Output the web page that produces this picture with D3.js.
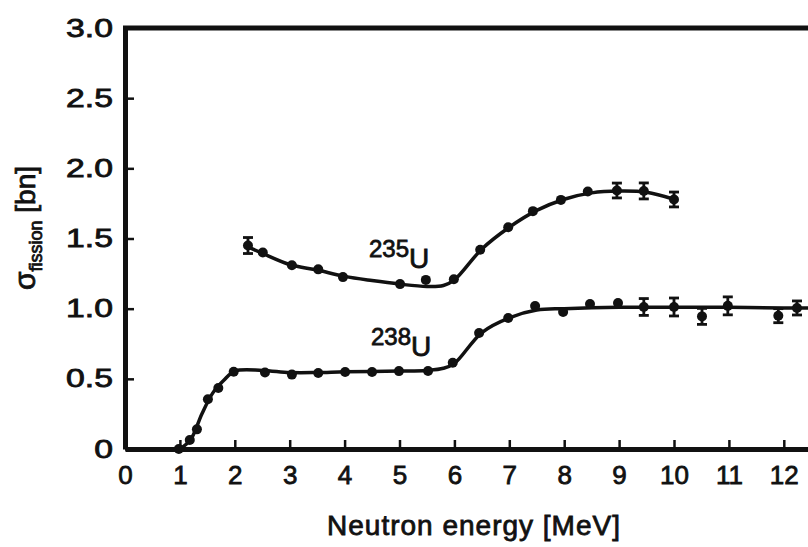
<!DOCTYPE html>
<html>
<head>
<meta charset="utf-8">
<script src="https://cdn.jsdelivr.net/npm/d3@7"></script>
<style>
  body { margin: 0; background: #fff; }
  svg { display: block; }
  text { font-family: "Liberation Sans", Arial, Helvetica, sans-serif; fill: #111; stroke: #111; stroke-width: 0.8px; }
</style>
</head>
<body>
<svg id="chart" width="808" height="547"></svg>
<script>
// Axis ticks
const energyTicks = [0, 1, 2, 3, 4, 5, 6, 7, 8, 9, 10, 11, 12];
const sigmaTicks = [0, 0.5, 1.0, 1.5, 2.0, 2.5, 3.0];

// U-235 fission cross section: measured points (MeV, barn, error)
const u235Energy = [2.24, 2.51, 3.04, 3.52, 3.97, 5.01, 5.48, 5.99, 6.47, 6.98, 7.43, 7.94, 8.43, 8.96, 9.45, 10.0];
const u235Sigma  = [1.45, 1.40, 1.31, 1.28, 1.225, 1.175, 1.205, 1.21, 1.42, 1.58, 1.695, 1.775, 1.835, 1.842, 1.839, 1.778];
const u235Err    = [0.057, 0, 0, 0, 0, 0, 0, 0, 0, 0, 0, 0, 0, 0.053, 0.057, 0.053];

// U-235 smooth fit
const u235FitEnergy = [2.24, 2.5, 3.0, 3.5, 4.0, 4.5, 5.0, 5.5, 5.8, 6.0, 6.5, 7.0, 7.5, 8.0, 8.5, 9.0, 9.5, 10.0];
const u235FitSigma  = [1.44, 1.395, 1.315, 1.275, 1.23, 1.2, 1.175, 1.158, 1.165, 1.205, 1.425, 1.58, 1.70, 1.78, 1.825, 1.838, 1.83, 1.78];

// U-238 fission cross section: measured points (MeV, barn, error)
const u238Energy = [0.98, 1.18, 1.31, 1.51, 1.70, 1.98, 2.55, 3.04, 3.52, 4.01, 4.5, 4.99, 5.52, 5.97, 6.45, 6.98, 7.47, 7.98, 8.47, 8.98, 9.45, 10.0, 10.51, 10.98, 11.9, 12.24];
const u238Sigma  = [0.0, 0.064, 0.14, 0.355, 0.435, 0.55, 0.545, 0.53, 0.542, 0.549, 0.549, 0.555, 0.556, 0.615, 0.827, 0.934, 1.019, 0.976, 1.033, 1.04, 1.012, 1.012, 0.945, 1.02, 0.95, 1.005];
const u238Err    = [0, 0, 0, 0, 0, 0, 0, 0, 0, 0, 0, 0, 0, 0, 0, 0, 0, 0, 0, 0, 0.06, 0.064, 0.057, 0.064, 0.05, 0.05];

// U-238 smooth fit
const u238FitEnergy = [1.0, 1.2, 1.4, 1.6, 1.8, 2.0, 2.5, 3.0, 3.5, 4.0, 5.0, 5.5, 5.8, 6.0, 6.5, 7.0, 7.5, 8.0, 9.0, 10.0, 11.0, 12.0, 12.6];
const u238FitSigma  = [0.0, 0.07, 0.25, 0.40, 0.49, 0.555, 0.56, 0.545, 0.545, 0.55, 0.555, 0.56, 0.575, 0.61, 0.83, 0.935, 0.99, 1.0, 1.01, 1.01, 1.01, 1.005, 1.005];

const svg = d3.select("#chart");

const x = d3.scaleLinear().domain([0, 13]).range([125, 125 + 13 * 54.9]);
const y = d3.scaleLinear().domain([0, 3]).range([449, 28]);

// Frame top line
svg.append("line")
  .attr("x1", x(0) - 2).attr("x2", 808)
  .attr("y1", y(3)).attr("y2", y(3))
  .attr("stroke", "#111").attr("stroke-width", 5);

// Y axis
const yAxis = svg.append("g")
  .attr("transform", `translate(${x(0)},0)`)
  .call(d3.axisLeft(y).tickValues(sigmaTicks).tickSizeInner(-9).tickSizeOuter(0).tickPadding(12)
        .tickFormat(d => d === 0 ? "0" : d3.format(".1f")(d)));
yAxis.select(".domain").attr("stroke", "#111").attr("stroke-width", 5);
yAxis.selectAll(".tick line").attr("stroke", "#111").attr("stroke-width", 2.5);
yAxis.selectAll(".tick text")
  .attr("x", null)
  .attr("transform", "translate(-12,0) scale(1.35,1)")
  .attr("font-size", 25)
  .style("fill", "#111");

// X axis
const xAxis = svg.append("g")
  .attr("transform", `translate(0,${y(0)})`)
  .call(d3.axisBottom(x).tickValues(energyTicks).tickSizeInner(-9).tickSizeOuter(0).tickPadding(17));
xAxis.select(".domain").attr("stroke", "#111").attr("stroke-width", 5);
xAxis.selectAll(".tick line").attr("stroke", "#111").attr("stroke-width", 2.5);
xAxis.selectAll(".tick text").attr("font-size", 26).style("fill", "#111");

// Axis titles
svg.append("text")
  .attr("x", 474).attr("y", 535)
  .attr("text-anchor", "middle")
  .attr("font-size", 28)
  .attr("letter-spacing", 1.0)
  .text("Neutron energy [MeV]");

const yt = svg.append("text")
  .attr("transform", "translate(35,290) rotate(-90)")
  .attr("font-size", 28);
yt.append("tspan").attr("font-size", 30).text("σ");
yt.append("tspan").attr("font-size", 18).attr("dy", 7).text("fission");
yt.append("tspan").attr("dy", -7).text(" [bn]");

// Curves, error bars and points
const line = d3.line()
  .x(d => x(d[0])).y(d => y(d[1]))
  .curve(d3.curveCatmullRom.alpha(0.5));

function drawSeries(fe, fs, pe, ps, perr) {
  const fit = fe.map((e, i) => [e, fs[i]]);
  svg.append("path").datum(fit)
    .attr("d", line)
    .attr("fill", "none").attr("stroke", "#111").attr("stroke-width", 3.5);

  const pts = pe.map((e, i) => ({ e, s: ps[i], err: perr[i] }));
  const g = svg.append("g");
  const withErr = pts.filter(d => d.err > 0);
  g.selectAll("line.bar").data(withErr).join("line")
    .attr("x1", d => x(d.e)).attr("x2", d => x(d.e))
    .attr("y1", d => y(d.s - d.err)).attr("y2", d => y(d.s + d.err))
    .attr("stroke", "#111").attr("stroke-width", 2.8);
  [-1, 1].forEach(sgn => {
    g.selectAll(null).data(withErr).join("line")
      .attr("x1", d => x(d.e) - 5).attr("x2", d => x(d.e) + 5)
      .attr("y1", d => y(d.s + sgn * d.err)).attr("y2", d => y(d.s + sgn * d.err))
      .attr("stroke", "#111").attr("stroke-width", 2.8);
  });
  g.selectAll("circle").data(pts).join("circle")
    .attr("cx", d => x(d.e)).attr("cy", d => y(d.s))
    .attr("r", 5).attr("fill", "#111");
}

drawSeries(u235FitEnergy, u235FitSigma, u235Energy, u235Sigma, u235Err);
drawSeries(u238FitEnergy, u238FitSigma, u238Energy, u238Sigma, u238Err);

// Isotope labels
function isotope(px, py, mass) {
  const t = svg.append("text").attr("x", px).attr("y", py).attr("font-size", 24);
  t.append("tspan").text(mass);
  t.append("tspan").attr("font-size", 28).attr("dy", 11).text("U");
}
isotope(369, 257, "235");
isotope(371, 345, "238");
</script>
</body>
</html>
